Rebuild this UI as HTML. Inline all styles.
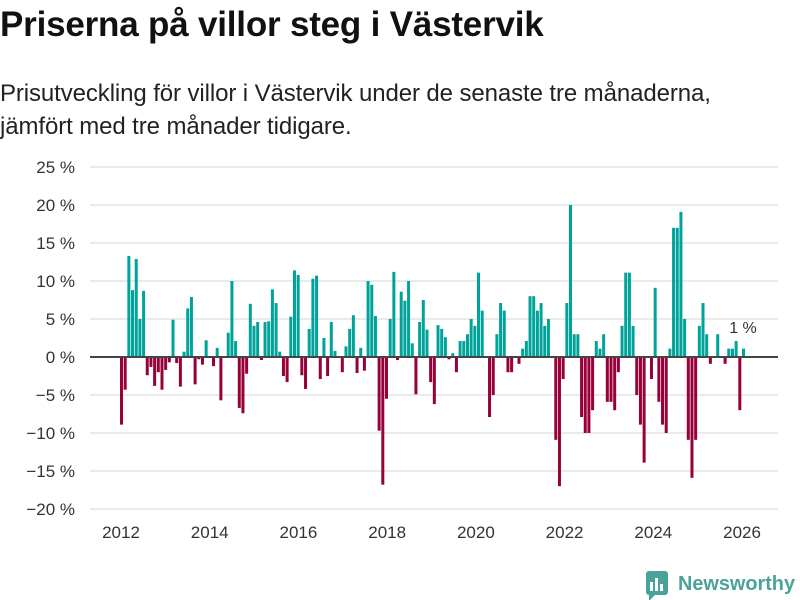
<!DOCTYPE html>
<html><head><meta charset="utf-8">
<style>
body{margin:0;background:#fff;width:800px;height:600px;overflow:hidden;font-family:"Liberation Sans",sans-serif;color:#111}
#title{position:absolute;left:0;top:5px;font-size:35px;font-weight:bold;margin:0;letter-spacing:-0.2px}
#subtitle{position:absolute;left:0;top:77px;font-size:24px;line-height:33px;color:#222;margin:0;letter-spacing:-0.1px}
svg{position:absolute;left:0;top:0}
</style></head><body>
<h1 id="title">Priserna på villor steg i Västervik</h1>
<p id="subtitle">Prisutveckling för villor i Västervik under de senaste tre månaderna,<br>jämfört med tre månader tidigare.</p>
<svg id="chart" width="800" height="600"></svg>
<script>
const values=[-8.9,-4.3,13.3,8.8,12.9,5.0,8.7,-2.4,-1.3,-3.8,-2.0,-4.3,-1.7,-0.7,4.9,-0.8,-3.9,0.7,6.4,7.9,-3.6,-0.3,-1.0,2.2,0,-1.2,1.2,-5.7,0,3.2,10.0,2.1,-6.7,-7.4,-2.2,7.0,4.1,4.6,-0.4,4.6,4.7,8.9,7.1,0.7,-2.5,-3.3,5.3,11.4,10.8,-2.4,-4.2,3.7,10.3,10.7,-2.9,2.5,-2.5,4.6,0.8,0,-2.0,1.4,3.7,5.5,-2.1,1.2,-1.8,10.0,9.5,5.4,-9.7,-16.8,-5.5,5.0,11.2,-0.4,8.6,7.4,10.0,1.8,-4.9,4.6,7.5,3.6,-3.3,-6.2,4.2,3.7,2.6,-0.3,0.5,-2.0,2.1,2.1,3.0,5.0,4.1,11.1,6.1,0,-7.9,-5.0,3.0,7.1,6.1,-2.0,-2.0,0,-0.9,1.1,2.1,8.0,8.0,6.1,7.1,4.1,5.0,0,-10.9,-17.0,-2.9,7.1,20.0,3.0,3.0,-7.9,-10.0,-10.0,-7.0,2.1,1.1,3.0,-5.9,-5.9,-7.0,-2.0,4.1,11.1,11.1,4.1,-5.0,-8.9,-13.9,0,-2.9,9.1,-5.9,-8.9,-10.0,1.1,17.0,17.0,19.1,5.0,-10.9,-15.9,-10.9,4.1,7.1,3.0,-0.9,0,3.0,0,-0.9,1.1,1.1,2.1,-7.0,1.1];
const yTicks=[25,20,15,10,5,0,-5,-10,-15,-20];
const xYears=[2012,2014,2016,2018,2020,2022,2024,2026];
const lastLabel="1 %";
const NS="http://www.w3.org/2000/svg";
const svg=document.getElementById('chart');
const y=v=>357-v*7.6;
const xi=i=>121+i*(622/(values.length-1));
const xy=yr=>121+(yr-2012)*44.36;
function mk(t,a){const e=document.createElementNS(NS,t);for(const k in a)e.setAttribute(k,a[k]);svg.appendChild(e);return e;}
yTicks.forEach(t=>{
  const l=mk('line',{x1:90,x2:778,y1:y(t),y2:y(t),stroke:'#e3e3e3','stroke-width':1.5});
  
  
  const tx=mk('text',{x:75,y:y(t)+6,'text-anchor':'end','font-size':17,fill:'#333'});
  tx.textContent=(t<0?'\u2212'+(-t):t)+' %';
  
  
});
xYears.forEach(yr=>{
  const tx=mk('text',{x:xy(yr),y:538,'text-anchor':'middle','font-size':17,fill:'#333'});
  tx.textContent=yr;
  
  
});
values.forEach((v,i)=>{
  if(v===0)return;
  const r=mk('rect',{x:xi(i)-1,width:3,y:Math.min(y(v),357),height:Math.abs(y(v)-357),fill:v>0?'#00a39a':'#98003a'});
  
  
});
const z=mk('line',{x1:90,x2:778,y1:357,y2:357,stroke:'#444','stroke-width':2});


const lb=mk('text',{x:xi(values.length-1),y:333,'text-anchor':'middle','font-size':16,fill:'#333',stroke:'#fff','stroke-width':4,'paint-order':'stroke'});
lb.textContent=lastLabel;


</script>
<svg width="800" height="600" style="pointer-events:none">
  <g transform="translate(646,572)">
    <path d="M0,2 a3,3 0 0 1 3,-3 h16 a3,3 0 0 1 3,3 v18 a3,3 0 0 1 -3,3 h-10 l-6,6 v-6 a3,3 0 0 1 -3,-3z" fill="#4aa39a"/>
    <rect x="4" y="10" width="3" height="9" fill="#fff"/><rect x="9" y="6" width="3" height="13" fill="#fff"/><rect x="14" y="12" width="3" height="7" fill="#fff"/>
  </g>
  <text x="678" y="590" font-size="20" font-weight="bold" fill="#4aa39a" font-family="Liberation Sans, sans-serif" textLength="117" lengthAdjust="spacingAndGlyphs">Newsworthy</text>
</svg>
</body></html>
